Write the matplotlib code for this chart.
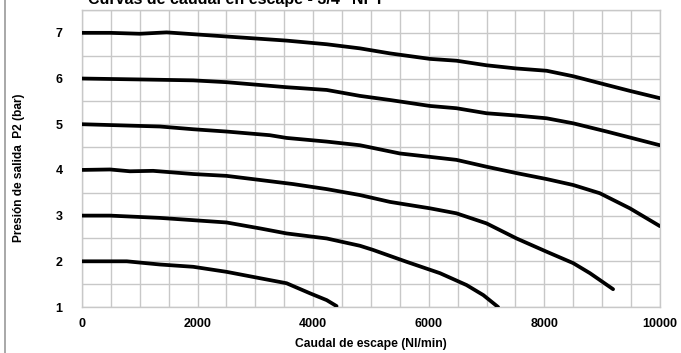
import numpy as np
import matplotlib.pyplot as plt
from matplotlib.lines import Line2D
from matplotlib import font_manager

# Exhaust flow curves, one per set pressure (bar)
q_7 = [0, 485, 1000, 1465, 2500, 3540, 4235, 4810, 5330, 6020, 6480, 7000, 7520, 8040, 8500, 9080, 9480, 10000]
p_7 = [7.0, 7.0, 6.98, 7.01, 6.92, 6.83, 6.75, 6.66, 6.55, 6.43, 6.39, 6.29, 6.22, 6.17, 6.05, 5.86, 5.73, 5.57]

q_6 = [0, 1000, 1925, 2500, 3540, 4235, 4810, 5330, 6020, 6480, 7000, 7520, 8040, 8500, 9080, 9480, 10000]
p_6 = [6.0, 5.98, 5.96, 5.92, 5.81, 5.75, 5.62, 5.53, 5.40, 5.35, 5.24, 5.19, 5.13, 5.02, 4.84, 4.71, 4.54]

q_5 = [0, 1350, 1925, 2500, 3250, 3540, 4235, 4810, 5500, 6480, 7000, 7520, 8040, 8500, 8960, 9480, 10000]
p_5 = [5.0, 4.95, 4.89, 4.84, 4.76, 4.70, 4.62, 4.54, 4.36, 4.22, 4.07, 3.93, 3.80, 3.67, 3.49, 3.16, 2.77]

q_4 = [0, 485, 830, 1230, 1925, 2500, 3080, 3655, 4235, 4810, 5330, 6020, 6480, 7000, 7520, 8040, 8500, 8790, 9190]
p_4 = [4.0, 4.01, 3.97, 3.98, 3.91, 3.87, 3.78, 3.69, 3.58, 3.45, 3.30, 3.16, 3.05, 2.83, 2.50, 2.21, 1.96, 1.74, 1.39]

q_3 = [0, 485, 1350, 1925, 2500, 3080, 3540, 4235, 4810, 5035, 5615, 6195, 6655, 6945, 7200]
p_3 = [3.0, 3.0, 2.95, 2.90, 2.85, 2.72, 2.61, 2.50, 2.34, 2.25, 1.99, 1.74, 1.48, 1.26, 1.0]

q_2 = [0, 775, 1350, 1925, 2500, 3080, 3540, 3945, 4235, 4405]
p_2 = [2.0, 2.0, 1.93, 1.88, 1.77, 1.63, 1.52, 1.30, 1.15, 1.02]

curves = [(q_7, p_7), (q_6, p_6), (q_5, p_5), (q_4, p_4), (q_3, p_3), (q_2, p_2)]

x_ticks = [0, 2000, 4000, 6000, 8000, 10000]
y_ticks = [1, 2, 3, 4, 5, 6, 7]

plt.rcParams['font.family'] = ['Liberation Sans', 'DejaVu Sans']
installed = {f.name for f in font_manager.fontManager.ttflist}
narrow = 'Liberation Sans Narrow' if 'Liberation Sans Narrow' in installed else 'Liberation Sans'

fig = plt.figure(figsize=(6.81, 3.53), dpi=100)
ax = fig.add_axes([0.1204, 0.1303, 0.969 - 0.1204, 0.9717 - 0.1303])

for q, p in curves:
    ax.plot(q, p, color='black', lw=2.7, solid_capstyle='round', solid_joinstyle='round', zorder=3)

ax.set_xlim(0, 10000)
ax.set_ylim(1, 7.5)
ax.set_xticks(np.arange(0, 10001, 500), minor=True)
ax.set_yticks(np.arange(1, 7.51, 0.5), minor=True)
ax.set_xticks(x_ticks)
ax.set_yticks(y_ticks)
ax.set_xticklabels([str(v) for v in x_ticks], fontsize=9, fontweight='bold')
ax.set_yticklabels([str(v) for v in y_ticks], fontsize=9, fontweight='bold')
ax.tick_params(which='both', length=0)
ax.tick_params(axis='x', pad=8)
ax.tick_params(axis='y', pad=14)
ax.grid(which='both', color='#c8c8c8', lw=1)
for s in ax.spines.values():
    s.set_color('#c8c8c8')
    s.set_linewidth(1)

ax.set_xlabel('Caudal de escape (Nl/min)', fontsize=8.7, fontweight='bold', labelpad=6)
ax.set_ylabel('Presión de salida  P2 (bar)', fontsize=8.6, fontweight='bold', family=narrow)
ax.yaxis.set_label_coords(-0.0986, 0.47)

# title sits partly above the page edge
fig.text(236 / 681, 1 - 4 / 353, 'Curvas de caudal en escape - 3/4" NPT',
         ha='center', va='baseline', fontsize=11.5, fontweight='bold')

# frame line down the left side
fig.add_artist(Line2D([5 / 681, 5 / 681], [0, 1], color='#999999', lw=1.2))

fig.savefig('out.png', dpi=100)
